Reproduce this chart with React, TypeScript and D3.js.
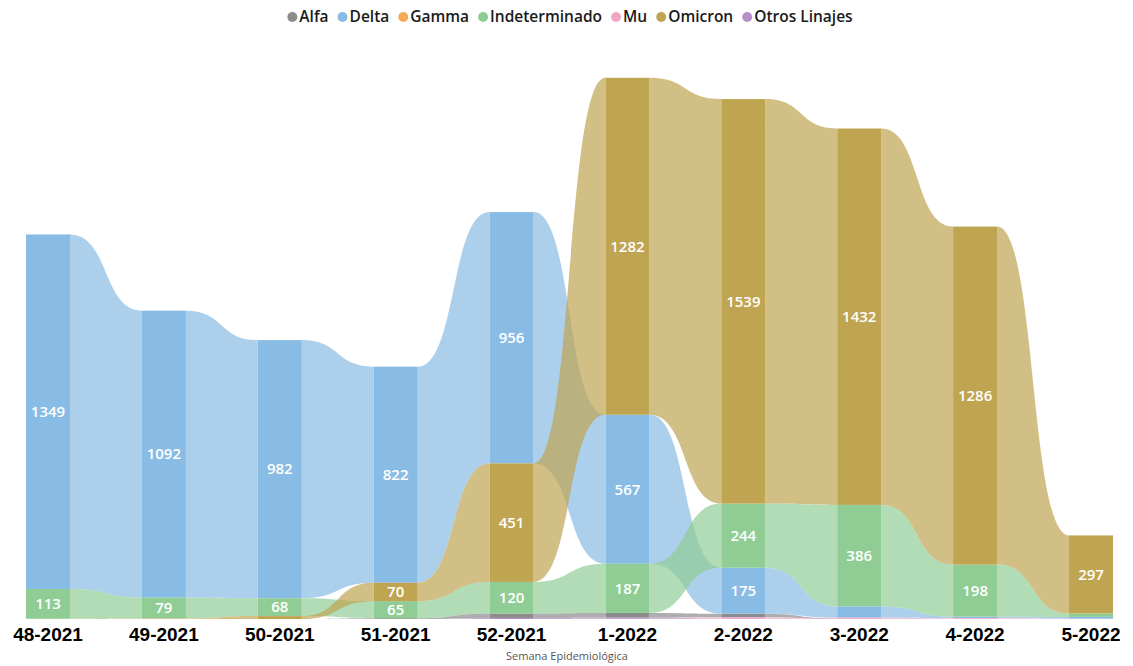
import React, { useEffect, useRef } from "react";
import * as d3 from "d3";

const categories = ["48-2021", "49-2021", "50-2021", "51-2021", "52-2021", "1-2022", "2-2022", "3-2022", "4-2022", "5-2022"];
const seriesNames = ["Alfa", "Delta", "Gamma", "Indeterminado", "Mu", "Omicron", "Otros Linajes"];
const seriesColors = ["#8C8C8C", "#89BCE4", "#F5AB56", "#90CD95", "#F2A6C7", "#BFA452", "#B88FC9"];

const alfa = [0, 0, 0, 3, 17, 18, 13, 1, 0, 0];
const delta = [1349, 1092, 982, 822, 956, 567, 175, 43, 6, 7];
const gamma = [1, 1, 0, 0, 0, 0, 0, 0, 0, 0];
const indeterminado = [113, 79, 68, 65, 120, 187, 244, 386, 198, 13];
const mu = [0, 0, 0, 0, 0, 1, 6, 4, 3, 1];
const omicron = [0, 1, 11, 70, 451, 1282, 1539, 1432, 1286, 297];
const otrosLinajes = [0, 0, 0, 0, 4, 4, 1, 0, 0, 0];

const seriesValues = [alfa, delta, gamma, indeterminado, mu, omicron, otrosLinajes];

const W = 1133;
const H = 666;

export default function App() {
  const ref = useRef<SVGSVGElement>(null);

  useEffect(() => {
    const svg = d3.select(ref.current);
    svg.selectAll("*").remove();

    const x = d3.scalePoint<string>().domain(categories).range([48, 1091]);
    const y = d3.scaleLinear().domain([0, 2100]).range([619, 67]);
    const barW = 44;

    const layout: { y0: number; y1: number }[][] = seriesNames.map(() => []);
    categories.forEach((c, j) => {
      const order = d3.range(seriesNames.length).sort((a, b) => {
        const d = seriesValues[a][j] - seriesValues[b][j];
        return d !== 0 ? d : a - b;
      });
      let acc = 0;
      order.forEach((s) => {
        const v = seriesValues[s][j];
        layout[s][j] = { y0: acc, y1: acc + v };
        acc += v;
      });
    });

    const gRib = svg.append("g");
    seriesNames.forEach((name, s) => {
      for (let j = 0; j < categories.length - 1; j++) {
        const a = seriesValues[s][j];
        const b = seriesValues[s][j + 1];
        if (a === 0 && b === 0) continue;
        const xr = (x(categories[j]) as number) + barW / 2;
        const xl = (x(categories[j + 1]) as number) - barW / 2;
        const w = xl - xr;
        const c1 = xr + w * 0.55;
        const c2 = xl - w * 0.55;
        const t0 = y(layout[s][j].y1);
        const b0 = y(layout[s][j].y0);
        const t1 = y(layout[s][j + 1].y1);
        const b1 = y(layout[s][j + 1].y0);
        const p = d3.path();
        p.moveTo(xr, t0);
        p.bezierCurveTo(c1, t0, c2, t1, xl, t1);
        p.lineTo(xl, b1);
        p.bezierCurveTo(c2, b1, c1, b0, xr, b0);
        p.closePath();
        gRib.append("path")
          .attr("d", p.toString())
          .attr("fill", seriesColors[s])
          .attr("fill-opacity", 0.7);
      }
    });

    const gBars = svg.append("g");
    seriesNames.forEach((name, s) => {
      categories.forEach((c, j) => {
        const v = seriesValues[s][j];
        if (v === 0) return;
        const yt = y(layout[s][j].y1);
        const yb = y(layout[s][j].y0);
        gBars.append("rect")
          .attr("x", (x(c) as number) - barW / 2)
          .attr("y", yt)
          .attr("width", barW)
          .attr("height", yb - yt)
          .attr("fill", seriesColors[s]);
      });
    });

    const gLab = svg.append("g");
    seriesNames.forEach((name, s) => {
      categories.forEach((c, j) => {
        const v = seriesValues[s][j];
        const yt = y(layout[s][j].y1);
        const yb = y(layout[s][j].y0);
        if (yb - yt < 14) return;
        gLab.append("text")
          .attr("x", x(c) as number)
          .attr("y", (yt + yb) / 2)
          .attr("dy", "0.35em")
          .attr("text-anchor", "middle")
          .attr("fill", "#ffffff")
          .attr("font-family", "'Open Sans', sans-serif")
          .attr("font-size", 15)
          .attr("font-weight", 600)
          .text(String(v));
      });
    });

    const gAx = svg.append("g");
    categories.forEach((c) => {
      gAx.append("text")
        .attr("x", x(c) as number)
        .attr("y", 641)
        .attr("text-anchor", "middle")
        .attr("fill", "#000")
        .attr("font-family", "'Liberation Sans', Arial, sans-serif")
        .attr("font-weight", 700)
        .attr("font-size", 19)
        .text(c);
    });

    svg.append("text")
      .attr("x", 567)
      .attr("y", 660)
      .attr("text-anchor", "middle")
      .attr("fill", "#555")
      .attr("font-family", "'Open Sans', sans-serif")
      .attr("font-size", 11)
      .text("Semana Epidemiológica");

    const gLeg = svg.append("g");
    const items: { g: any; w: number }[] = [];
    seriesNames.forEach((name, s) => {
      const g = gLeg.append("g");
      g.append("circle").attr("cx", 5).attr("cy", 0).attr("r", 5).attr("fill", seriesColors[s]);
      const t = g.append("text")
        .attr("x", 12)
        .attr("y", 0)
        .attr("dy", "0.35em")
        .attr("fill", "#1a1a1a")
        .attr("font-family", "'Open Sans', sans-serif")
        .attr("font-size", 15.5)
        .attr("font-weight", 600)
        .text(name);
      const tw = (t.node() as SVGTextElement).getComputedTextLength();
      items.push({ g, w: 12 + tw });
    });
    const gap = 9;
    const total = d3.sum(items, (d) => d.w) + gap * (items.length - 1);
    let cx = 570 - total / 2;
    items.forEach((it) => {
      it.g.attr("transform", `translate(${cx},17)`);
      cx += it.w + gap;
    });
  }, []);

  return (
    <svg
      ref={ref}
      width={W}
      height={H}
      style={{ position: "absolute", left: 0, top: 0, background: "#fff" }}
    />
  );
}
